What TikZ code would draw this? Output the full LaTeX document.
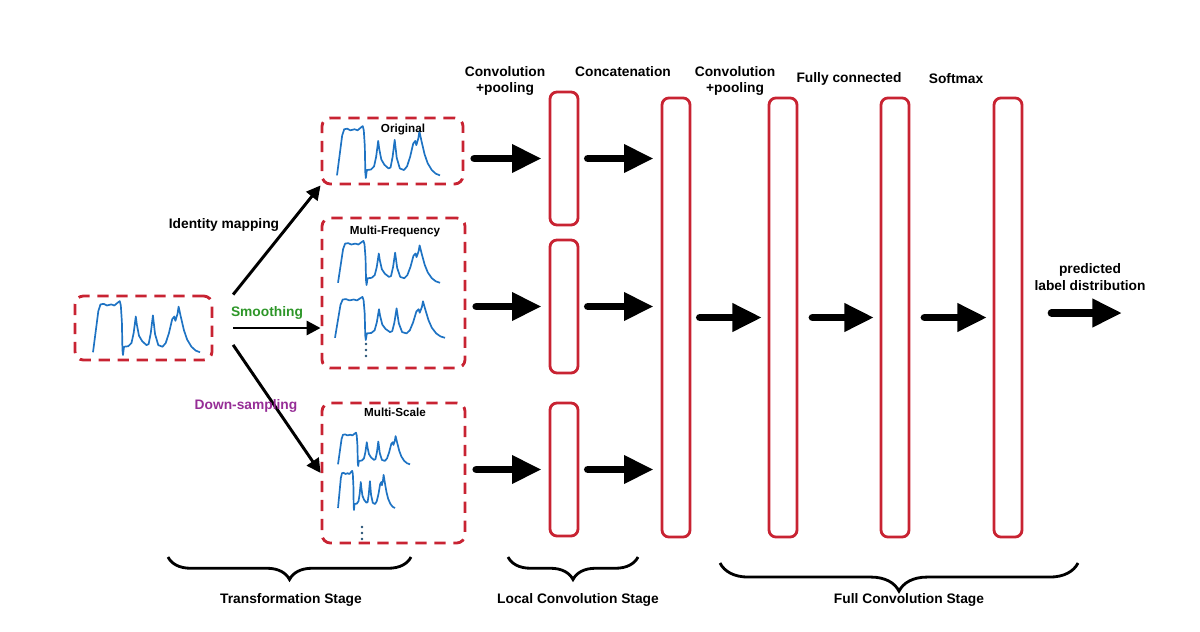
\documentclass[tikz,border=0pt]{standalone}
\usepackage{fontspec}
\setmainfont{Liberation Sans}
\usetikzlibrary{arrows.meta,decorations.pathreplacing}

\definecolor{boxred}{RGB}{200,35,50}
\definecolor{sigblue}{RGB}{30,115,195}
\definecolor{dotblue}{RGB}{35,80,115}
\definecolor{smoothgreen}{RGB}{45,150,40}
\definecolor{downpurple}{RGB}{150,45,150}

\tikzset{
  dashbox/.style={draw=boxred, line width=2pt, dash pattern=on 8pt off 5.5pt, rounded corners=6pt, inner sep=0pt},
  convbox/.style={draw=boxred, line width=2pt, rounded corners=5pt, minimum width=0.7cm, inner sep=0pt},
  fat/.style={line width=5.5pt, line cap=round, -{Triangle[length=21pt,width=19pt]}},
  branch/.style={line width=2.1pt, -{Triangle[length=10pt,width=10pt]}},
  lbl/.style={font=\fontsize{9.8}{11.5}\selectfont\bfseries, align=center},
  boxtag/.style={font=\fontsize{8.3}{10}\selectfont\bfseries},
  stagebrace/.style={decorate, decoration={brace, mirror, amplitude=#1}, line width=2pt},
  sigdot/.style={fill=dotblue},
  signal/.pic={
    \draw[sigblue, line width=1.2pt, line join=round] plot coordinates {
      (0,0.95) (0.03,0.5) (0.05,0.2) (0.07,0.08) (0.1,0.07) (0.13,0.1) (0.17,0.08)
      (0.2,0.1) (0.23,0.05) (0.25,0.02) (0.26,0.1) (0.27,0.4) (0.275,0.9) (0.28,1)
      (0.29,0.85) (0.33,0.84) (0.36,0.78) (0.38,0.6) (0.40,0.3) (0.41,0.45) (0.43,0.65)
      (0.46,0.75) (0.5,0.82) (0.52,0.8) (0.54,0.6) (0.56,0.28) (0.58,0.62) (0.61,0.82)
      (0.65,0.85) (0.68,0.78) (0.71,0.6) (0.74,0.35) (0.76,0.3) (0.77,0.38) (0.79,0.25)
      (0.8,0.12) (0.82,0.3) (0.85,0.55) (0.88,0.72) (0.92,0.85) (0.96,0.92) (1,0.95)};
  }
}

\begin{document}
\begin{tikzpicture}[x=0.025cm, y=-0.025cm]
    \useasboundingbox (0,0) rectangle (1200,631);

    % transformation stage
    \node[dashbox, minimum width=3.425cm, minimum height=1.6cm] (in) at (143.5,328) {};
    \node[dashbox, minimum width=3.525cm, minimum height=1.65cm] (orig) at (392.5,151) {};
    \node[dashbox, minimum width=3.575cm, minimum height=3.75cm] (mfreq) at (393.5,293) {};
    \node[dashbox, minimum width=3.575cm, minimum height=3.5cm] (mscale) at (393.5,473) {};

    \pic[xscale=107, yscale=55] at (93,300) {signal};
    \pic[xscale=103, yscale=53] at (337,125) {signal};
    \pic[xscale=102, yscale=45] at (338,240) {signal};
    \pic[xscale=110, yscale=44] at (335,296) {signal};
    \pic[xscale=72, yscale=34] at (338,432) {signal};
    \pic[xscale=57, yscale=40] at (338,470) {signal};

    \node[boxtag] (origtag) at (403,130) {Original};
    \node[boxtag] (mfreqtag) at (395,231) {Multi-Frequency};
    \node[boxtag] (mscaletag) at (395,412) {Multi-Scale};
    \foreach \y in {344,350,356} \fill[sigdot] (366,\y) circle (1.3);
    \foreach \y in {527,533,539} \fill[sigdot] (362,\y) circle (1.3);

    \draw[branch] ([xshift=14pt]in.north east) -- (orig.south west);
    \draw[branch] ([xshift=14pt]in.east) -- (mfreq.west |- in.east);
    \draw[branch] ([xshift=14pt,yshift=-12pt]in.east) -- (mscale.west);

    \node[lbl] (idlbl) at (224,225) {Identity mapping};
    \node[lbl, text=smoothgreen] (smlbl) at (267,313) {Smoothing};
    \node[lbl, text=downpurple] (dslbl) at (246,406) {Down-sampling};

    % local convolution stage
    \node[convbox, minimum height=3.325cm] (convA1) at (564,158.5) {};
    \node[convbox, minimum height=3.325cm] (convA2) at (564,306.5) {};
    \node[convbox, minimum height=3.325cm] (convA3) at (564,469.5) {};

    \draw[fat] ([xshift=7pt]orig.east |- convA1) -- ([xshift=-5pt]convA1.west);
    \draw[fat] ([xshift=7pt]mfreq.east |- convA2) -- ([xshift=-5pt]convA2.west);
    \draw[fat] ([xshift=7pt]mscale.east |- convA3) -- ([xshift=-5pt]convA3.west);

    % full convolution stage
    \node[convbox, minimum height=10.975cm] (concat) at (676,317.5) {};
    \node[convbox, minimum height=10.975cm] (convB) at (783,317.5) {};
    \node[convbox, minimum height=10.975cm] (fc) at (895,317.5) {};
    \node[convbox, minimum height=10.975cm] (softmax) at (1008,317.5) {};
    \coordinate (out) at (1122,313);

    \draw[fat] ([xshift=6pt]convA1.east) -- ([xshift=-5pt]concat.west |- convA1);
    \draw[fat] ([xshift=6pt]convA2.east) -- ([xshift=-5pt]concat.west |- convA2);
    \draw[fat] ([xshift=6pt]convA3.east) -- ([xshift=-5pt]concat.west |- convA3);
    \draw[fat] ([xshift=6pt]concat.east) -- ([xshift=-4pt]convB.west);
    \draw[fat] ([xshift=10pt]convB.east) -- ([xshift=-4pt]fc.west);
    \draw[fat] ([xshift=10pt]fc.east) -- ([xshift=-4pt]softmax.west);
    \draw[fat] ([xshift=20pt]softmax.east |- out) -- (out);

    \node[lbl] (convAlbl) at (505,81) {Convolution\\+pooling};
    \node[lbl] (concatlbl) at (623,72) {Concatenation};
    \node[lbl] (convBlbl) at (735,81) {Convolution\\+pooling};
    \node[lbl] (fclbl) at (849,79) {Fully connected};
    \node[lbl] (softlbl) at (956,79) {Softmax};
    \node[lbl] (outlbl) at (1090,277) {predicted\\label distribution};

    % stage braces
    \draw[stagebrace=16pt] (168,557) -- (411,557);
    \draw[stagebrace=16pt] (508,557) -- (638,557);
    \draw[stagebrace=20pt] (720,563) -- (1078,563);

    \node[lbl] (trstage) at (291,600) {Transformation Stage};
    \node[lbl] (lcstage) at (578,600) {Local Convolution Stage};
    \node[lbl] (fcstage) at (909,600) {Full Convolution Stage};
\end{tikzpicture}
\end{document}
